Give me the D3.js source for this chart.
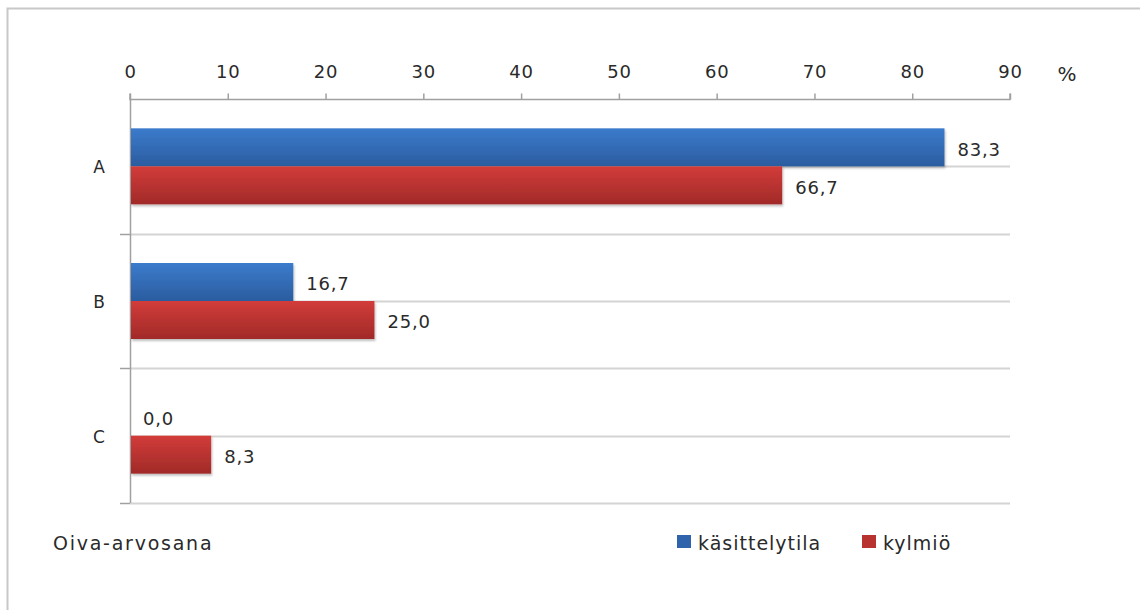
<!DOCTYPE html>
<html><head><meta charset="utf-8">
<script src="https://cdn.jsdelivr.net/npm/d3@7"></script>
<style>
html,body{margin:0;padding:0;background:#fff;}
svg{display:block;}
text{font-family:"DejaVu Sans",Verdana,sans-serif;fill:#2a2a2a;}
</style></head>
<body>
<script>
const categories = ["A","B","C"];
const seriesNames = ["käsittelytila","kylmiö"];
const kasittelytila = [83.3,16.7,0.0];
const kylmio = [66.7,25.0,8.3];
const xTicks = [0,10,20,30,40,50,60,70,80,90];
const axisTitle = "Oiva-arvosana";
const unit = "%";

const W=1140,H=610;
const svg=d3.select("body").append("svg").attr("width",W).attr("height",H);
const defs=svg.append("defs");
const grads=[["gb","#3b7bcc","#2b5c9f"],["gr","#d23c3a","#a12a28"]];
grads.forEach(([id,c1,c2])=>{
  const g=defs.append("linearGradient").attr("id",id).attr("x1",0).attr("y1",0).attr("x2",0).attr("y2",1);
  g.append("stop").attr("offset","0%").attr("stop-color",c1);
  g.append("stop").attr("offset","100%").attr("stop-color",c2);
});
const f=defs.append("filter").attr("id","sh").attr("x","-5%").attr("y","-20%").attr("width","110%").attr("height","160%");
f.append("feDropShadow").attr("dx",1).attr("dy",2).attr("stdDeviation",1.2).attr("flood-color","#000").attr("flood-opacity",0.25);

// frame
svg.append("path").attr("d","M7.5,610 V8.5 H1140").attr("fill","none").attr("stroke","#c8c8c8").attr("stroke-width",2);

const x=d3.scaleLinear().domain([0,90]).range([130,1010]);
const y=d3.scaleBand().domain(categories).range([99,503]);
const inner=d3.scaleBand().domain(seriesNames).range([0,76]);
const offs=(y.bandwidth()-76)/2;

// gridlines: category boundaries and centers
const gl=[];
categories.forEach(c=>{gl.push(y(c)+y.bandwidth()/2);gl.push(y(c)+y.bandwidth());});
svg.append("g").selectAll("line").data(gl).join("line")
  .attr("x1",x(0)).attr("x2",x(90)).attr("y1",d=>Math.round(d)+0.5).attr("y2",d=>Math.round(d)+0.5)
  .attr("stroke","#d4d4d4").attr("stroke-width",2);

// left axis with ticks at boundaries
svg.append("g").selectAll("line").data(categories.map(c=>y(c)+y.bandwidth())).join("line")
  .attr("x1",120).attr("x2",x(0)).attr("y1",d=>Math.round(d)+0.5).attr("y2",d=>Math.round(d)+0.5)
  .attr("stroke","#a0a0a0").attr("stroke-width",1.5);
svg.append("line").attr("x1",x(0)+0.5).attr("x2",x(0)+0.5).attr("y1",99).attr("y2",503).attr("stroke","#a0a0a0").attr("stroke-width",1.5);

// bars
const data=[];
categories.forEach((c,i)=>{
  data.push({c,s:seriesNames[0],v:kasittelytila[i],g:"gb"});
  data.push({c,s:seriesNames[1],v:kylmio[i],g:"gr"});
});
svg.append("g").selectAll("rect").data(data).join("rect")
  .attr("x",x(0)+1).attr("y",d=>y(d.c)+offs+inner(d.s))
  .attr("width",d=>Math.max(0,x(d.v)-x(0)-1)).attr("height",inner.bandwidth())
  .attr("fill",d=>`url(#${d.g})`).attr("filter","url(#sh)");

// value labels
svg.append("g").selectAll("text").data(data).join("text")
  .attr("x",d=>x(d.v)+13).attr("y",d=>y(d.c)+offs+inner(d.s)+inner.bandwidth()/2+2)
  .attr("dy","0.36em").attr("font-size",18).attr("letter-spacing",0.8)
  .text(d=>d3.format(".1f")(d.v).replace(".",","));

// top axis
const ax=svg.append("g").attr("transform","translate(0,99.5)")
  .call(d3.axisTop(x).tickValues(xTicks).tickSize(6).tickPadding(15.5).tickFormat(d=>d));
ax.select(".domain").attr("stroke","#a0a0a0").attr("stroke-width",1.5).attr("d",`M${x(0)},-6V0H${x(90)}V-6`);
ax.selectAll(".tick line").attr("stroke","#a0a0a0").attr("stroke-width",1.5);
ax.selectAll(".tick text").attr("font-size",18).attr("letter-spacing",0.8).attr("fill","#2a2a2a")
  .attr("font-family","DejaVu Sans,Verdana,sans-serif");
svg.append("text").attr("x",1067).attr("y",74).attr("text-anchor","middle").attr("dy","0.36em").attr("font-size",20).text(unit);

// category labels
svg.append("g").selectAll("text").data(categories).join("text")
  .attr("x",99).attr("y",d=>y(d)+y.bandwidth()/2+1).attr("text-anchor","middle").attr("dy","0.36em")
  .attr("font-size",17).text(d=>d);

// axis title
svg.append("text").attr("x",53).attr("y",550).attr("font-size",19).attr("letter-spacing",1.75).text(axisTitle);

// legend
const leg=[{n:seriesNames[0],c:"#2f64ad",x:677},{n:seriesNames[1],c:"#b83230",x:862}];
const lg=svg.append("g").selectAll("g").data(leg).join("g").attr("transform",d=>`translate(${d.x},535)`);
lg.append("rect").attr("width",14).attr("height",13).attr("fill",d=>d.c);
lg.append("text").attr("x",21).attr("y",15).attr("font-size",19).attr("letter-spacing",1).text(d=>d.n);
</script>
</body></html>
